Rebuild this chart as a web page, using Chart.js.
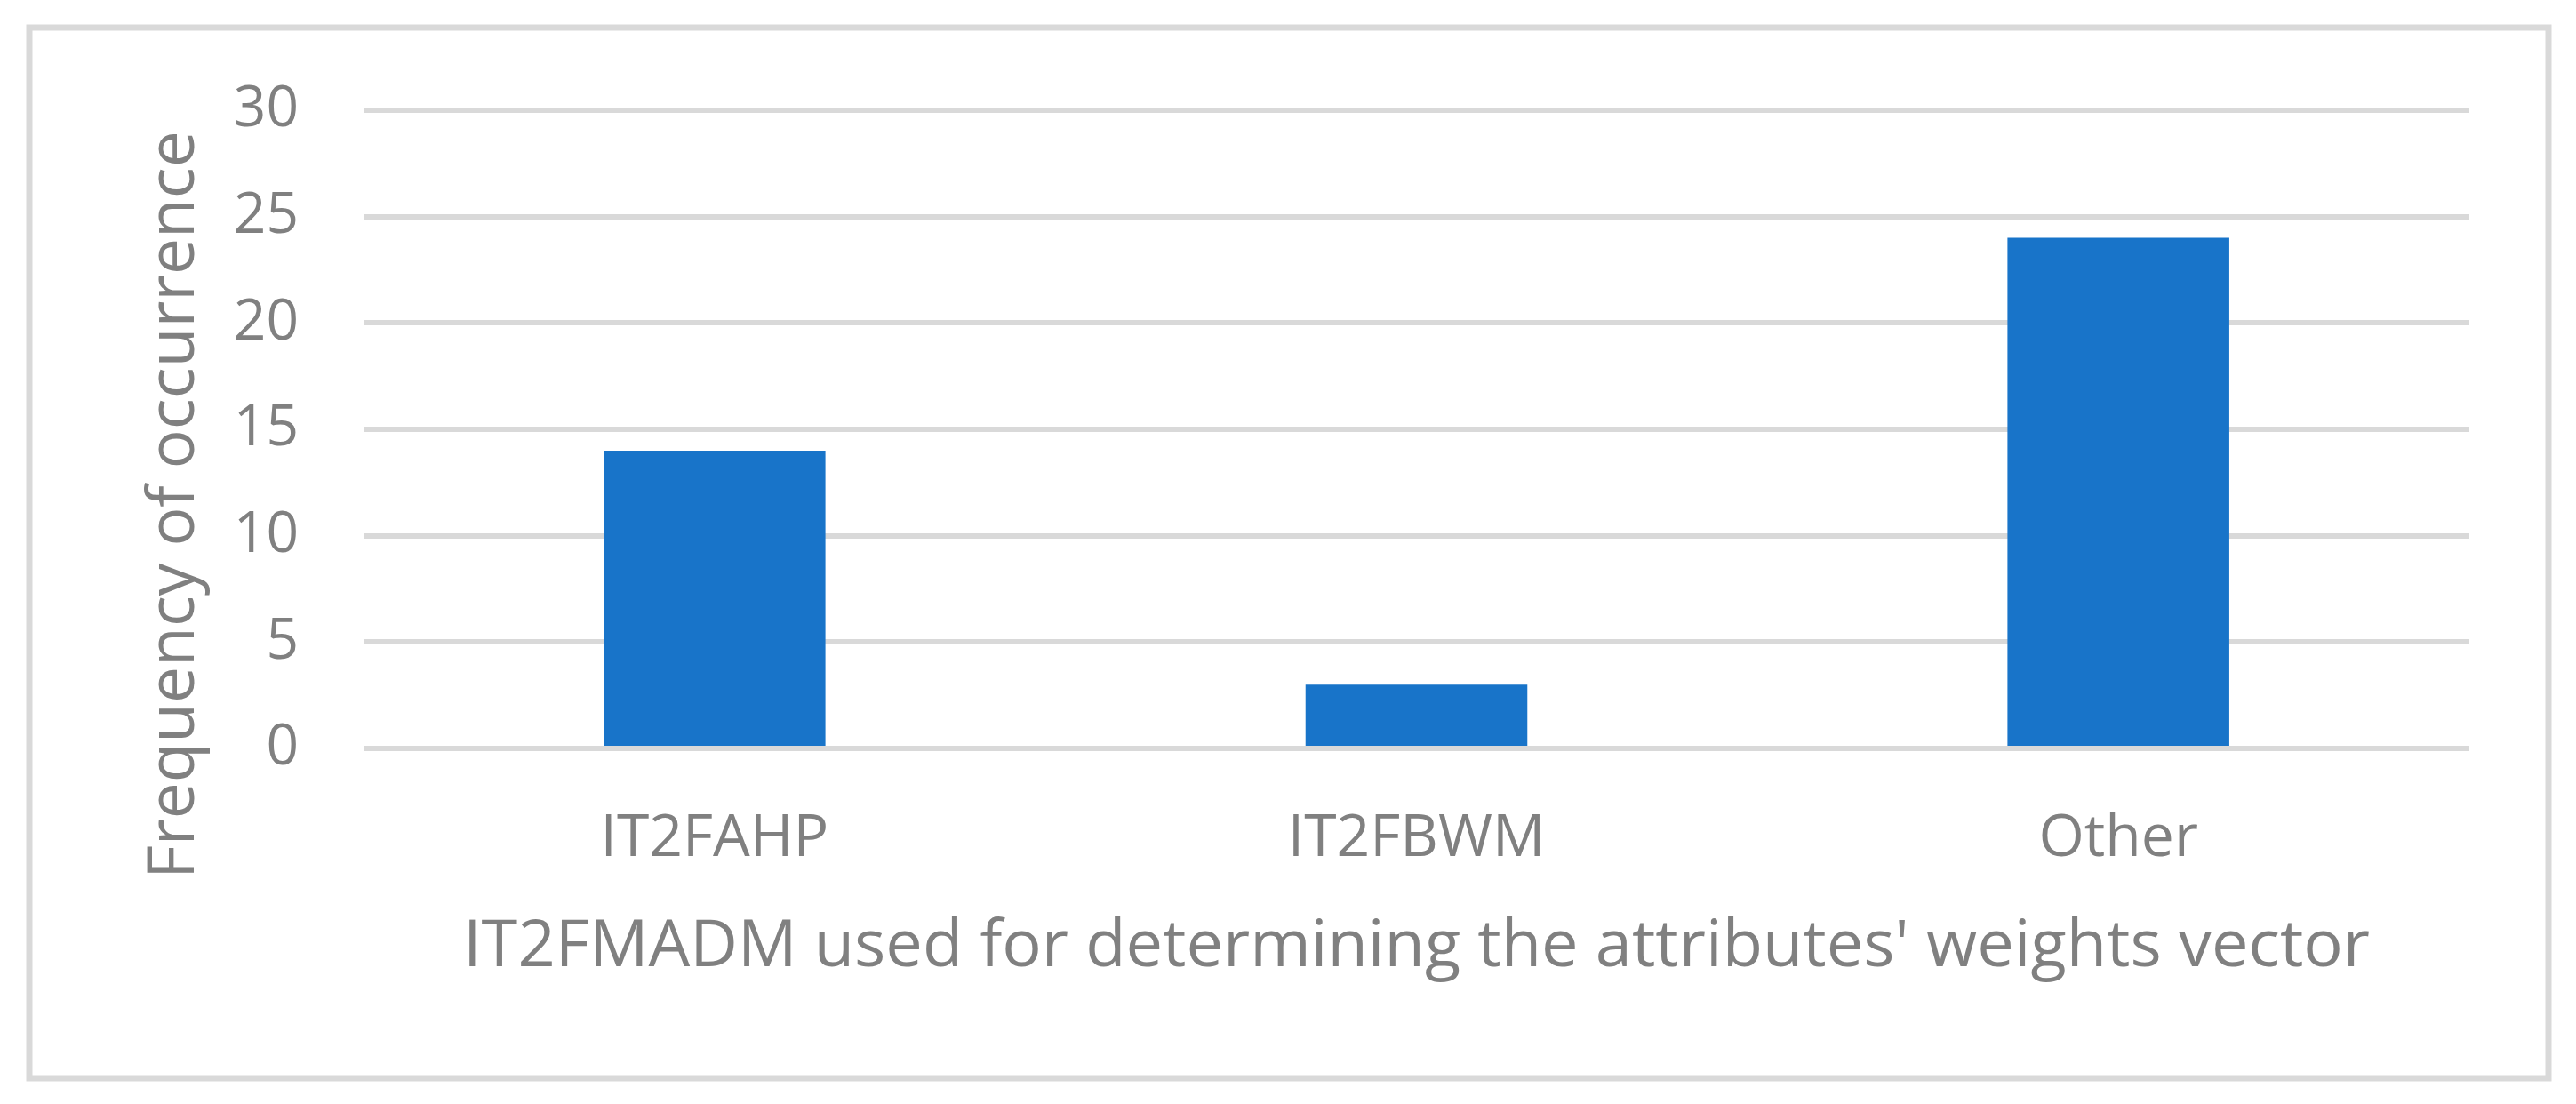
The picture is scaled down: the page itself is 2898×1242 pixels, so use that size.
<!DOCTYPE html>
<html>
<head>
<meta charset="utf-8">
<script src="https://cdn.jsdelivr.net/npm/chart.js@4.4.1/dist/chart.umd.min.js"></script>
<style>
    body { margin: 0; background: #ffffff; }
    canvas { display: block; }
</style>
</head>
<body>
<canvas id="myChart" width="2898" height="1242"></canvas>
<script>
// data
var categories = ['IT2FAHP', 'IT2FBWM', 'Other'];
var counts = [14, 3, 24];
var yMin = 0;
var yMax = 30;
var yStep = 5;
var xTitle = "IT2FMADM used for determining the attributes' weights vector";
var yTitle = 'Frequency of occurrence';

var textColor = '#808080';
var gridColor = '#d9d9d9';
var barColor = '#1874c9';

// frame + white bg + y title
var framePlugin = {
    id: 'frame',
    beforeDraw: function (chart) {
        var ctx = chart.ctx;
        ctx.save();
        ctx.fillStyle = '#ffffff';
        ctx.fillRect(0, 0, chart.width, chart.height);
        ctx.strokeStyle = gridColor;
        ctx.lineWidth = 7;
        ctx.strokeRect(33, 31, 2834, 1182);
        ctx.restore();
    },
    afterDraw: function (chart) {
        var ctx = chart.ctx;
        ctx.save();
        ctx.translate(197, 568);
        ctx.rotate(-Math.PI / 2);
        ctx.font = '73px "Open Sans"';
        ctx.fillStyle = textColor;
        ctx.textAlign = 'center';
        ctx.textBaseline = 'middle';
        ctx.fillText(yTitle, 0, 0);
        ctx.restore();
    }
};

var ctx = document.getElementById('myChart').getContext('2d');
var myChart = new Chart(ctx, {
    type: 'bar',
    data: {
        labels: categories,
        datasets: [{
            data: counts,
            backgroundColor: barColor,
            borderWidth: 0,
            barPercentage: 1,
            categoryPercentage: 0.316
        }]
    },
    options: {
        responsive: false,
        animation: false,
        devicePixelRatio: 1,
        layout: {
            padding: { top: 124, right: 120, bottom: 132, left: 0 }
        },
        plugins: {
            legend: { display: false },
            tooltip: { enabled: false }
        },
        scales: {
            x: {
                grid: { display: false, drawTicks: false },
                border: { display: false },
                ticks: {
                    color: textColor,
                    font: { family: 'Open Sans', size: 66 },
                    padding: 63
                },
                title: {
                    display: true,
                    text: xTitle,
                    color: textColor,
                    font: { family: 'Open Sans', size: 74 },
                    padding: 0
                },
                afterFit: function (scale) {
                    scale.height = 268;
                }
            },
            y: {
                min: yMin,
                max: yMax,
                grid: { color: gridColor, lineWidth: 6, drawTicks: false },
                border: { display: false },
                ticks: {
                    stepSize: yStep,
                    color: textColor,
                    font: { family: 'Open Sans', size: 64 },
                    padding: 73
                },
                afterFit: function (scale) {
                    scale.width = 409;
                }
            }
        }
    },
    plugins: [framePlugin]
});
</script>
</body>
</html>
